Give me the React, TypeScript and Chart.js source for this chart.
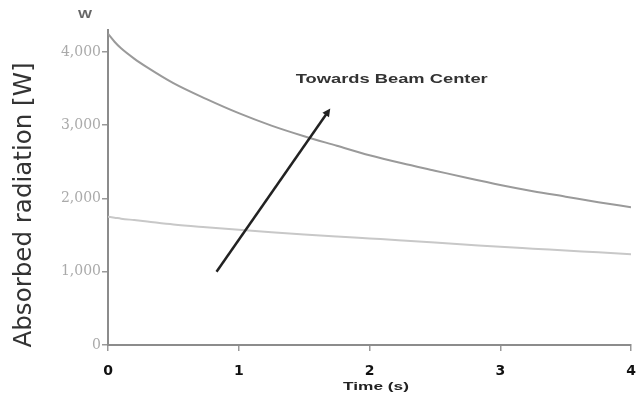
import React, { useEffect, useRef } from "react";
import { Chart, registerables } from "chart.js";

Chart.register(...registerables);

const timeValues = [0, 0.05, 0.1, 0.2, 0.3, 0.5, 0.75, 1, 1.25, 1.5, 1.75, 2, 2.25, 2.5, 2.75, 3, 3.25, 3.5, 3.75, 4];
const upperSeries = [4250, 4140, 4050, 3910, 3790, 3575, 3360, 3165, 2995, 2850, 2720, 2590, 2480, 2380, 2280, 2185, 2100, 2025, 1950, 1880];
const lowerSeries = [1750, 1738, 1725, 1705, 1685, 1645, 1607, 1572, 1540, 1510, 1482, 1455, 1428, 1400, 1370, 1340, 1315, 1290, 1265, 1240];
const xTicks = [0, 1, 2, 3, 4];
const yTicks = [0, 1000, 2000, 3000, 4000];
const yTickLabels = ["0", "1,000", "2,000", "3,000", "4,000"];
const xAxisTitle = "Time (s)";
const yAxisTitle = "Absorbed radiation [W]";
const yUnit = "W";
const annotationText = "Towards Beam Center";
const arrowStart = { x: 0.83, y: 1000 };
const arrowEnd = { x: 1.7, y: 3230 };
const annotationAt = { x: 2.17, y: 3620 };

function fitText(ctx: CanvasRenderingContext2D, text: string, cx: number, cy: number, width: number, font: string, color: string, rot = 0) {
  ctx.save();
  ctx.font = font;
  ctx.fillStyle = color;
  ctx.textAlign = "center";
  ctx.textBaseline = "middle";
  const w = ctx.measureText(text).width;
  ctx.translate(cx, cy);
  if (rot) ctx.rotate(rot);
  ctx.scale(width / w, 1);
  ctx.fillText(text, 0, 0);
  ctx.restore();
}

const overlay = {
  id: "overlay",
  afterDraw(chart: any) {
    const ctx = chart.ctx as CanvasRenderingContext2D;
    const xs = chart.scales.x;
    const ys = chart.scales.y;
    fitText(ctx, yAxisTitle, 25, 205, 285, "24px 'DejaVu Sans'", "#333", -Math.PI / 2);
    fitText(ctx, yUnit, 85, 15, 14, "bold 11px 'Liberation Sans'", "#666");
    fitText(ctx, xAxisTitle, 376, 387, 66, "bold 11px 'Liberation Sans'", "#222");
    fitText(ctx, annotationText, xs.getPixelForValue(annotationAt.x), ys.getPixelForValue(annotationAt.y), 192, "bold 12px 'Liberation Sans'", "#333");
    const x1 = xs.getPixelForValue(arrowStart.x);
    const y1 = ys.getPixelForValue(arrowStart.y);
    const x2 = xs.getPixelForValue(arrowEnd.x);
    const y2 = ys.getPixelForValue(arrowEnd.y);
    const ang = Math.atan2(y2 - y1, x2 - x1);
    ctx.save();
    ctx.strokeStyle = "#222";
    ctx.fillStyle = "#222";
    ctx.lineWidth = 2.5;
    ctx.beginPath();
    ctx.moveTo(x1, y1);
    ctx.lineTo(x2 - 4 * Math.cos(ang), y2 - 4 * Math.sin(ang));
    ctx.stroke();
    const hl = 8, hw = 4;
    ctx.beginPath();
    ctx.moveTo(x2, y2);
    ctx.lineTo(x2 - hl * Math.cos(ang) + hw * Math.sin(ang), y2 - hl * Math.sin(ang) - hw * Math.cos(ang));
    ctx.lineTo(x2 - hl * Math.cos(ang) - hw * Math.sin(ang), y2 - hl * Math.sin(ang) + hw * Math.cos(ang));
    ctx.closePath();
    ctx.fill();
    ctx.restore();
  },
};

export default function App() {
  const ref = useRef<HTMLCanvasElement | null>(null);
  useEffect(() => {
    if (!ref.current) return;
    const chart = new Chart(ref.current, {
      type: "line",
      data: {
        datasets: [
          {
            label: "upper",
            data: timeValues.map((t, i) => ({ x: t, y: upperSeries[i] })),
            borderColor: "#9a9a9a",
            borderWidth: 2,
            pointRadius: 0,
            cubicInterpolationMode: "monotone",
          },
          {
            label: "lower",
            data: timeValues.map((t, i) => ({ x: t, y: lowerSeries[i] })),
            borderColor: "#c8c8c8",
            borderWidth: 2,
            pointRadius: 0,
            cubicInterpolationMode: "monotone",
          },
        ],
      },
      options: {
        animation: false,
        responsive: false,
        devicePixelRatio: 1,
        layout: { padding: { top: 30, right: 5, left: 0, bottom: 0 } },
        plugins: { legend: { display: false }, tooltip: { enabled: false } },
        scales: {
          x: {
            type: "linear",
            min: 0,
            max: 4,
            afterBuildTicks: (s: any) => {
              s.ticks = xTicks.map((v) => ({ value: v }));
            },
            afterFit: (s: any) => {
              s.height = 58;
              s.paddingLeft = 0;
              s.paddingRight = 0;
            },
            border: { color: "#8c8c8c", width: 2 },
            grid: { drawOnChartArea: false, drawTicks: true, tickLength: 6, color: "#999", lineWidth: 1.5 },
            ticks: {
              color: "#111",
              font: { family: "'DejaVu Sans'", size: 14, weight: "bold" },
              padding: 12,
              maxRotation: 0,
              callback: (v: any) => String(v),
            },
          },
          y: {
            type: "linear",
            min: 0,
            max: 4300,
            afterBuildTicks: (s: any) => {
              s.ticks = yTicks.map((v) => ({ value: v }));
            },
            afterFit: (s: any) => {
              s.width = 108;
              s.paddingTop = 0;
              s.paddingBottom = 0;
            },
            border: { color: "#8c8c8c", width: 2 },
            grid: { drawOnChartArea: false, drawTicks: true, tickLength: 6, color: "#999", lineWidth: 1.5 },
            ticks: {
              color: "#aaa",
              font: { family: "'DejaVu Serif'", size: 14 },
              padding: 1,
              callback: (v: any) => {
                const i = yTicks.indexOf(Number(v));
                return i >= 0 ? yTickLabels[i] : "";
              },
            },
          },
        },
      },
      plugins: [overlay],
    } as any);
    return () => chart.destroy();
  }, []);
  return (
    <div style={{ position: "fixed", left: 0, top: 0, width: 636, height: 403, background: "#fff" }}>
      <canvas ref={ref} width={636} height={403} style={{ display: "block", width: 636, height: 403 }} />
    </div>
  );
}
